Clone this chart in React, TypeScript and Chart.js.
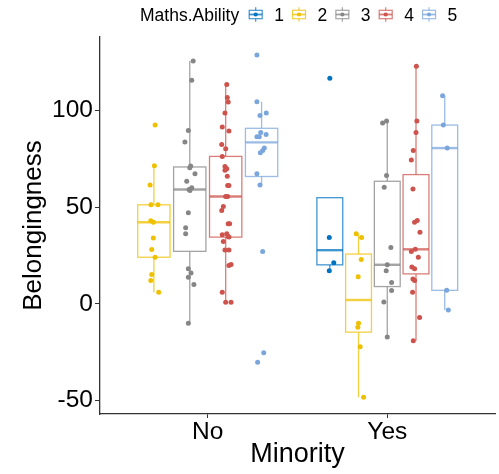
import React, { useEffect, useRef } from "react";
import { Chart, registerables } from "chart.js";

Chart.register(...registerables);

// ---------- data ----------
const minorityCategories = ["No", "Yes"];
const abilityLevels = ["1", "2", "3", "4", "5"];
const abilityColors = ["#0073C2", "#EFC000", "#868686", "#CD534C", "#7AA6DC"];
const yTickValues = [-50, 0, 50, 100];
const yMin = -56.9;
const yMax = 137.9;

// Minority = No
const noLevel2 = [92.4, 71.4, 61.4, 51.2, 51.2, 43.0, 42.2, 34.1, 28.1, 24.1, 15.2, 12.1, 6.0];
const noLevel2Jitter = [0.007, 0.003, -0.021, -0.016, 0.023, -0.017, -0.003, -0.003, -0.012, 0.007, -0.012, -0.017, 0.027];
const noLevel3 = [125.5, 115.5, 89.6, 83.6, 71.2, 70.3, 67.3, 63.3, 60.0, 59.1, 58.6, 47.1, 39.3, 36.2, 18.1, 16.0, 13.8, 10.0, -10.0];
const noLevel3Jitter = [0.019, 0.011, -0.008, -0.027, 0.005, 0.0, 0.029, -0.017, 0.011, -0.004, 0.001, -0.008, -0.023, -0.023, -0.008, 0.007, -0.008, 0.023, -0.008];
const noLevel4 = [113.4, 106.6, 104.3, 98.6, 91.4, 89.3, 82.4, 80.2, 76.2, 71.0, 69.8, 69.0, 66.0, 61.2, 61.2, 55.5, 55.5, 50.3, 48.3, 41.4, 41.4, 36.2, 35.7, 34.5, 34.8, 32.2, 27.9, 27.9, 20.3, 19.8, 6.0, 0.8, 0.8];
const noLevel4Jitter = [0.006, 0.009, 0.014, -0.004, -0.019, 0.018, -0.022, 0.0, -0.019, -0.004, 0.006, -0.004, 0.009, 0.011, 0.018, 0.0, 0.011, -0.013, -0.022, 0.014, 0.022, 0.006, -0.019, 0.018, 0.014, -0.013, -0.004, 0.018, 0.03, 0.018, -0.019, 0.0, 0.03];
const noLevel5 = [128.6, 104.5, 98.6, 97.4, 88.5, 87.5, 86.4, 86.4, 80.5, 79.3, 78.1, 67.3, 61.4, 27.1, -25.2, -30.2];
const noLevel5Jitter = [-0.026, -0.026, 0.026, -0.009, -0.005, 0.025, -0.026, -0.013, 0.015, 0.006, -0.007, -0.026, -0.009, 0.006, 0.012, -0.022];

// Minority = Yes
const yesLevel1 = [116.6, 34.3, 21.2, 17.1];
const yesLevel1Jitter = [0.0, -0.003, 0.022, -0.003];
const yesLevel2 = [36.2, 34.3, 22.9, 14.0, -10.0, -12.1, -22.1, -48.3];
const yesLevel2Jitter = [-0.013, 0.017, 0.015, -0.002, 0.0, -0.004, 0.009, 0.028];
const yesLevel3 = [94.5, 93.4, 66.4, 60.3, 29.1, 20.2, 17.1, 11.0, 6.9, 1.0, -17.1];
const yesLevel3Jitter = [-0.004, -0.026, -0.004, -0.017, 0.02, 0.0, -0.006, 0.024, 0.024, -0.019, 0.0];
const yesLevel4 = [122.8, 94.5, 88.5, 79.3, 74.3, 59.3, 43.1, 42.2, 37.0, 28.2, 27.1, 24.1, 19.1, 18.1, 12.9, 12.1, 6.0, -7.1, -19.1];
const yesLevel4Jitter = [0.002, 0.005, 0.0, -0.015, -0.026, -0.017, 0.007, -0.008, 0.022, -0.004, -0.026, 0.013, -0.023, -0.008, -0.017, -0.008, -0.019, 0.02, -0.015];
const yesLevel5 = [107.6, 92.4, 80.5, 7.0, -3.1];
const yesLevel5Jitter = [-0.012, -0.008, 0.014, 0.011, 0.02];

// ---------- group table ----------
type Group = { cat: number; level: number; values: number[]; jitter: number[] };
const rawGroups: Group[] = [
  { cat: 0, level: 1, values: noLevel2, jitter: noLevel2Jitter },
  { cat: 0, level: 2, values: noLevel3, jitter: noLevel3Jitter },
  { cat: 0, level: 3, values: noLevel4, jitter: noLevel4Jitter },
  { cat: 0, level: 4, values: noLevel5, jitter: noLevel5Jitter },
  { cat: 1, level: 0, values: yesLevel1, jitter: yesLevel1Jitter },
  { cat: 1, level: 1, values: yesLevel2, jitter: yesLevel2Jitter },
  { cat: 1, level: 2, values: yesLevel3, jitter: yesLevel3Jitter },
  { cat: 1, level: 3, values: yesLevel4, jitter: yesLevel4Jitter },
  { cat: 1, level: 4, values: yesLevel5, jitter: yesLevel5Jitter },
];

const DODGE = 0.8;
const groups = rawGroups.map((g) => {
  const same = rawGroups.filter((o) => o.cat === g.cat).sort((a, b) => a.level - b.level);
  const slot = same.indexOf(g);
  const slotW = DODGE / same.length;
  const center = g.cat + 1 - DODGE / 2 + slotW * (slot + 0.5);
  return { ...g, center, halfWidth: slotW * 0.45 };
});

function quantile7(sorted: number[], p: number) {
  const h = (sorted.length - 1) * p;
  const lo = Math.floor(h);
  const hi = Math.ceil(h);
  return sorted[lo] + (h - lo) * (sorted[hi] - sorted[lo]);
}

function boxStats(values: number[]) {
  const s = [...values].sort((a, b) => a - b);
  const q1 = quantile7(s, 0.25);
  const med = quantile7(s, 0.5);
  const q3 = quantile7(s, 0.75);
  const iqr = q3 - q1;
  const inside = s.filter((v) => v >= q1 - 1.5 * iqr && v <= q3 + 1.5 * iqr);
  const lo = Math.min(q1, ...inside);
  const hi = Math.max(q3, ...inside);
  return { q1, med, q3, lo, hi };
}

function hexToRgba(hex: string, a: number) {
  const n = parseInt(hex.slice(1), 16);
  return `rgba(${(n >> 16) & 255},${(n >> 8) & 255},${n & 255},${a})`;
}

const FONT = "'Liberation Sans', Arial, Helvetica, sans-serif";

const boxPlugin = {
  id: "boxes",
  beforeDatasetsDraw(chart: any) {
    const { ctx, scales, chartArea } = chart;
    const xs = scales.x;
    const ys = scales.y;
    ctx.save();
    ctx.beginPath();
    ctx.rect(chartArea.left, chartArea.top, chartArea.right - chartArea.left, chartArea.bottom - chartArea.top);
    ctx.clip();
    groups.forEach((g) => {
      const st = boxStats(g.values);
      const col = hexToRgba(abilityColors[g.level], 0.75);
      const cx = xs.getPixelForValue(g.center);
      const x0 = xs.getPixelForValue(g.center - g.halfWidth);
      const x1 = xs.getPixelForValue(g.center + g.halfWidth);
      const yq1 = ys.getPixelForValue(st.q1);
      const yq3 = ys.getPixelForValue(st.q3);
      const ymed = ys.getPixelForValue(st.med);
      const ylo = ys.getPixelForValue(st.lo);
      const yhi = ys.getPixelForValue(st.hi);
      ctx.strokeStyle = col;
      ctx.lineWidth = 1.3;
      ctx.beginPath();
      ctx.moveTo(cx, yq3);
      ctx.lineTo(cx, yhi);
      ctx.moveTo(cx, yq1);
      ctx.lineTo(cx, ylo);
      ctx.stroke();
      ctx.fillStyle = "#ffffff";
      ctx.fillRect(x0, yq3, x1 - x0, yq1 - yq3);
      ctx.strokeRect(x0, yq3, x1 - x0, yq1 - yq3);
      ctx.lineWidth = 2.4;
      ctx.beginPath();
      ctx.moveTo(x0, ymed);
      ctx.lineTo(x1, ymed);
      ctx.stroke();
    });
    ctx.restore();
  },
};

const legendPlugin = {
  id: "customLegend",
  afterDraw(chart: any) {
    const { ctx } = chart;
    ctx.save();
    ctx.font = `17.5px ${FONT}`;
    ctx.fillStyle = "#000";
    ctx.textBaseline = "alphabetic";
    ctx.textAlign = "left";
    const baseY = 20.6;
    const midY = 14.5;
    let x = 140;
    ctx.fillText("Maths.Ability", x, baseY);
    x += ctx.measureText("Maths.Ability").width;
    let keyCenter = x + 16.5;
    abilityLevels.forEach((lab, i) => {
      const c = abilityColors[i];
      const lc = hexToRgba(c, 0.75);
      ctx.strokeStyle = lc;
      ctx.lineWidth = 1.2;
      ctx.beginPath();
      ctx.moveTo(keyCenter, midY - 7.2);
      ctx.lineTo(keyCenter, midY + 7.2);
      ctx.stroke();
      ctx.fillStyle = "#fff";
      ctx.fillRect(keyCenter - 6.5, midY - 4.2, 13, 8.4);
      ctx.strokeRect(keyCenter - 6.5, midY - 4.2, 13, 8.4);
      ctx.lineWidth = 1.8;
      ctx.beginPath();
      ctx.moveTo(keyCenter - 6.5, midY);
      ctx.lineTo(keyCenter + 6.5, midY);
      ctx.stroke();
      ctx.fillStyle = c;
      ctx.beginPath();
      ctx.arc(keyCenter, midY, 2.1, 0, Math.PI * 2);
      ctx.fill();
      const labelX = keyCenter + 18.5;
      ctx.fillStyle = "#000";
      ctx.fillText(lab, labelX, baseY);
      keyCenter = labelX + ctx.measureText(lab).width + 15.1;
    });
    ctx.restore();
  },
};

export default function App() {
  const ref = useRef<HTMLCanvasElement>(null);
  useEffect(() => {
    const canvas = ref.current;
    if (!canvas) return;
    const datasets = abilityLevels.map((lab, li) => ({
      label: lab,
      data: groups
        .filter((g) => g.level === li)
        .flatMap((g) => g.values.map((v, i) => ({ x: g.center + g.jitter[i], y: v }))),
      backgroundColor: abilityColors[li],
      borderColor: abilityColors[li],
      pointRadius: 2.5,
      pointHoverRadius: 2.5,
      pointBorderWidth: 0,
    }));
    const axisColor = "#333333";
    const chart = new Chart(canvas, {
      type: "scatter",
      data: { datasets },
      plugins: [boxPlugin, legendPlugin],
      options: {
        responsive: false,
        animation: false,
        devicePixelRatio: 1,
        events: [],
        layout: { padding: { top: 37, right: 4, left: 0, bottom: 0 } },
        plugins: { legend: { display: false }, tooltip: { enabled: false } },
        scales: {
          x: {
            type: "linear",
            min: 0.4,
            max: 2.6,
            afterBuildTicks: (s: any) => {
              s.ticks = [1, 2].map((v) => ({ value: v }));
            },
            afterFit: (s: any) => {
              s.height = 60;
            },
            ticks: {
              callback: (v: any) => minorityCategories[Number(v) - 1] ?? "",
              font: { family: FONT, size: 24.5 },
              color: "#000",
              padding: 0,
              maxRotation: 0,
              autoSkip: false,
            },
            grid: { drawOnChartArea: false, drawTicks: true, tickLength: 4, color: axisColor, tickWidth: 1 },
            border: { display: true, color: axisColor, width: 1.3 },
            title: {
              display: true,
              text: "Minority",
              font: { family: FONT, size: 27 },
              color: "#000",
              padding: { top: 0, bottom: 3 },
            },
          },
          y: {
            type: "linear",
            min: yMin,
            max: yMax,
            afterBuildTicks: (s: any) => {
              s.ticks = yTickValues.map((v) => ({ value: v }));
            },
            afterFit: (s: any) => {
              s.width = 100;
            },
            ticks: {
              callback: (v: any) => String(v),
              font: { family: FONT, size: 24.5 },
              color: "#000",
              padding: 2,
            },
            grid: { drawOnChartArea: false, drawTicks: true, tickLength: 5, color: axisColor, tickWidth: 1 },
            border: { display: true, color: axisColor, width: 1.3 },
            title: {
              display: true,
              text: "Belongingness",
              font: { family: FONT, size: 26 },
              color: "#000",
              padding: { top: 18, bottom: 0 },
            },
          },
        },
      } as any,
    });
    return () => chart.destroy();
  }, []);
  return (
    <div style={{ position: "fixed", left: 0, top: 0, width: 499, height: 474, background: "#fff" }}>
      <canvas ref={ref} width={499} height={474} style={{ display: "block", width: 499, height: 474 }} />
    </div>
  );
}
